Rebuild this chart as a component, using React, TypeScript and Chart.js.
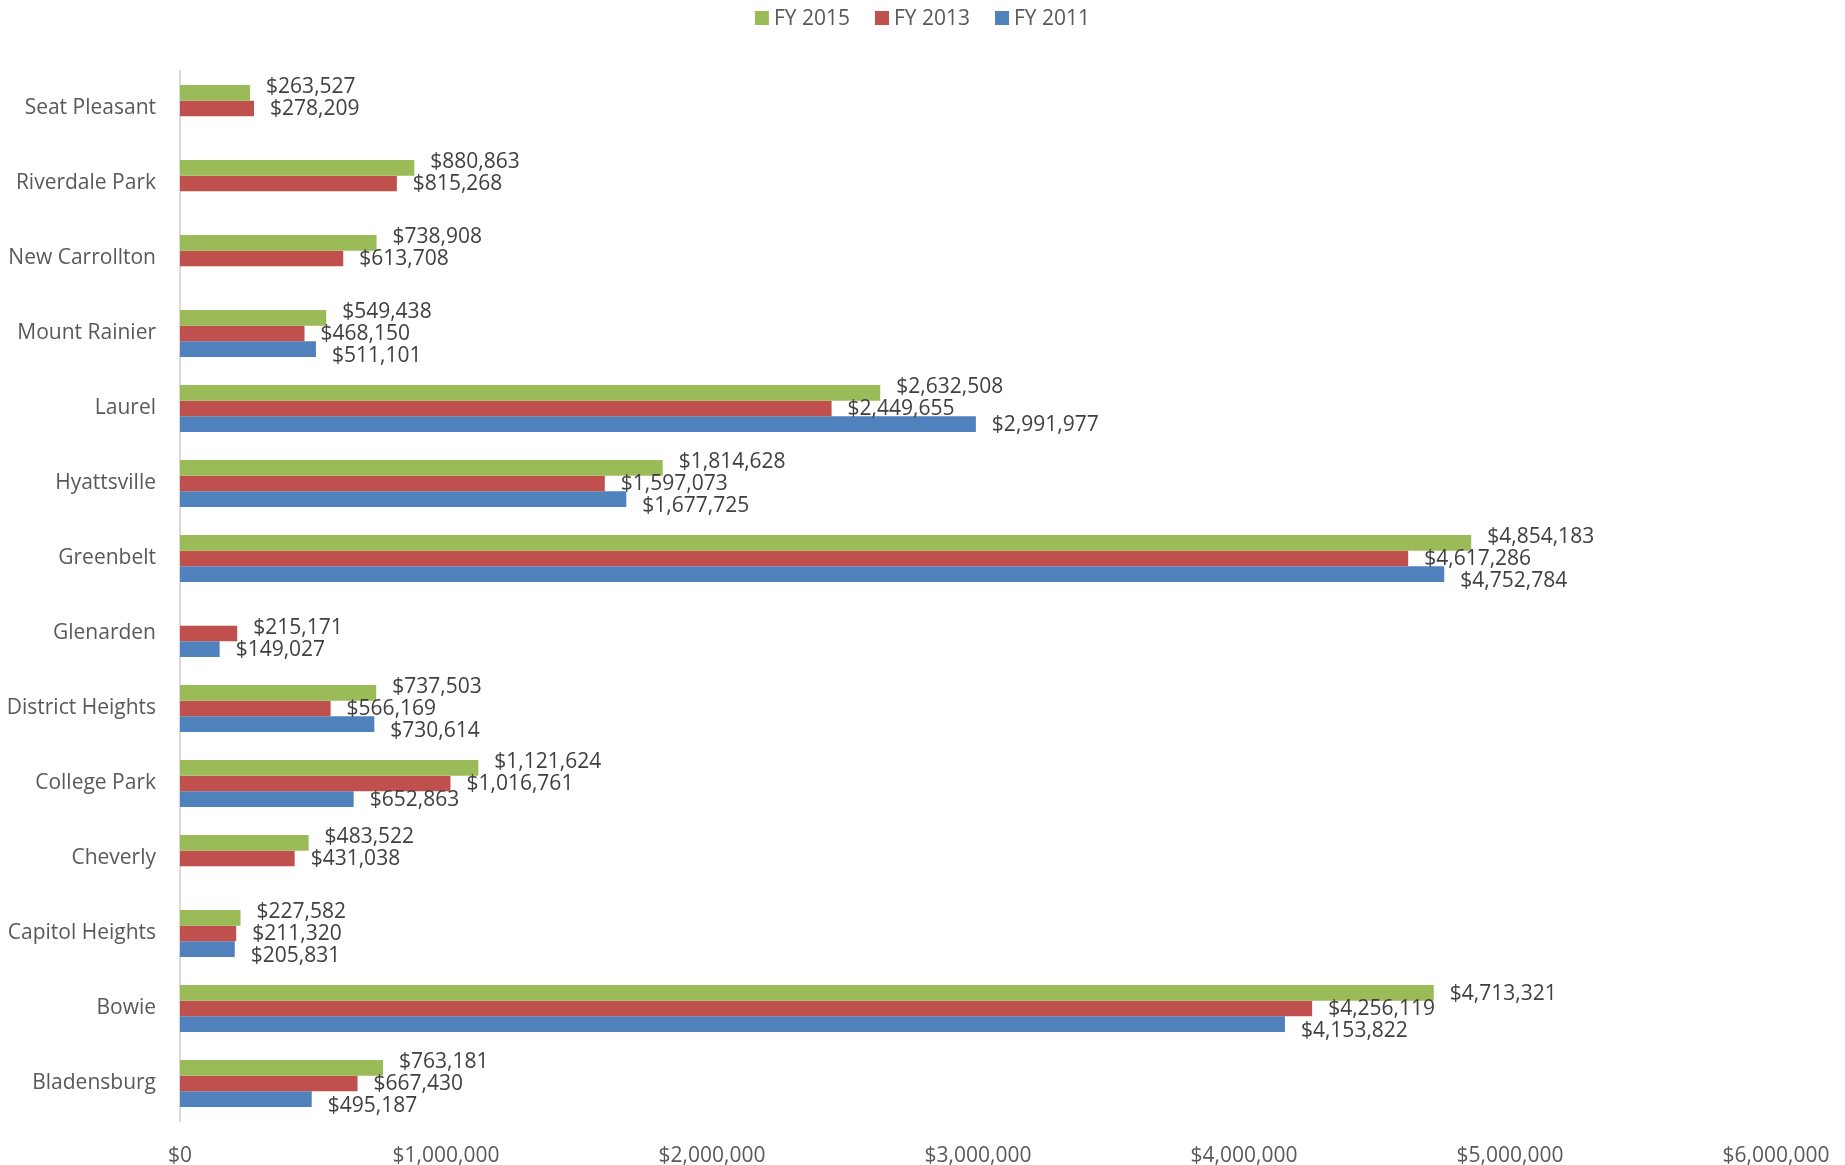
import { useEffect, useRef } from "react";
import { Chart, registerables } from "chart.js";

Chart.register(...registerables);

const categories = [
  "Seat Pleasant",
  "Riverdale Park",
  "New Carrollton",
  "Mount Rainier",
  "Laurel",
  "Hyattsville",
  "Greenbelt",
  "Glenarden",
  "District Heights",
  "College Park",
  "Cheverly",
  "Capitol Heights",
  "Bowie",
  "Bladensburg",
];

const fy2015 = [263527, 880863, 738908, 549438, 2632508, 1814628, 4854183, null, 737503, 1121624, 483522, 227582, 4713321, 763181];
const fy2013 = [278209, 815268, 613708, 468150, 2449655, 1597073, 4617286, 215171, 566169, 1016761, 431038, 211320, 4256119, 667430];
const fy2011 = [null, null, null, 511101, 2991977, 1677725, 4752784, 149027, 730614, 652863, null, 205831, 4153822, 495187];

const seriesNames = ["FY 2015", "FY 2013", "FY 2011"];
const seriesColors = ["#9BBB59", "#C0504D", "#4F81BD"];

const xMin = 0;
const xMax = 6000000;
const xStep = 1000000;

const FONT = "'Open Sans', 'Noto Sans', sans-serif";

const fmt = (v: number) => "$" + Math.round(v).toLocaleString("en-US");

const labelPlugin = {
  id: "barValueLabels",
  afterDatasetsDraw(chart: any) {
    const ctx = chart.ctx;
    ctx.save();
    ctx.font = `21px ${FONT}`;
    ctx.fillStyle = "#404040";
    ctx.textAlign = "left";
    ctx.textBaseline = "middle";
    const n = chart.data.labels.length;
    const sep = 22;
    for (let i = 0; i < n; i++) {
      const items: any[] = [];
      chart.data.datasets.forEach((ds: any, d: number) => {
        const v = ds.data[i];
        if (v == null) return;
        const el = chart.getDatasetMeta(d).data[i];
        if (!el) return;
        const text = fmt(v);
        const w = ctx.measureText(text).width;
        items.push({ x: el.x + 16, y: el.y + 1, w, text });
      });
      const a = Math.floor(items.length / 2);
      const overlapX = (p: any, q: any) => p.x < q.x + q.w && q.x < p.x + p.w;
      for (let k = a - 1; k >= 0; k--) {
        const ref = items[k + 1];
        const it = items[k];
        if (overlapX(it, ref)) it.y = Math.min(it.y, ref.y - sep);
      }
      for (let k = a + 1; k < items.length; k++) {
        const ref = items[k - 1];
        const it = items[k];
        if (overlapX(it, ref)) it.y = Math.max(it.y, ref.y + sep);
      }
      items.forEach((it) => ctx.fillText(it.text, it.x, it.y));
    }
    ctx.restore();
  },
};

const legendPlugin = {
  id: "topLegend",
  afterDraw(chart: any) {
    const ctx = chart.ctx;
    ctx.save();
    ctx.font = `21px ${FONT}`;
    ctx.textBaseline = "middle";
    ctx.textAlign = "left";
    const box = 14;
    const gap = 5;
    const spacing = 25;
    const cy = 18;
    const items = chart.data.datasets.map((ds: any) => ({
      text: ds.label,
      color: ds.backgroundColor,
      w: box + gap + ctx.measureText(ds.label).width,
    }));
    const total = items.reduce((s: number, it: any) => s + it.w, 0) + spacing * (items.length - 1);
    let x = chart.width / 2 - total / 2;
    items.forEach((it: any) => {
      ctx.fillStyle = it.color;
      ctx.fillRect(x, cy - box / 2, box, box);
      ctx.fillStyle = "#595959";
      ctx.fillText(it.text, x + box + gap, cy + 1);
      x += it.w + spacing;
    });
    ctx.restore();
  },
};

export default function App() {
  const canvasRef = useRef<HTMLCanvasElement | null>(null);

  useEffect(() => {
    document.body.style.margin = "0";
    const canvas = canvasRef.current;
    if (!canvas) return;
    const datasets = [fy2015, fy2013, fy2011].map((data, i) => ({
      label: seriesNames[i],
      data,
      backgroundColor: seriesColors[i],
      borderWidth: 0,
      categoryPercentage: 0.625,
      barPercentage: 1.0,
    }));
    const chart = new Chart(canvas, {
      type: "bar",
      data: { labels: categories, datasets },
      plugins: [labelPlugin, legendPlugin],
      options: {
        indexAxis: "y",
        responsive: false,
        animation: false,
        layout: { padding: { left: 0, right: 69, top: 71, bottom: 0 } },
        plugins: {
          legend: { display: false },
          title: { display: false },
          tooltip: { enabled: false },
        },
        scales: {
          x: {
            min: xMin,
            max: xMax,
            ticks: {
              stepSize: xStep,
              callback: (v: any) => fmt(Number(v)),
              color: "#595959",
              font: { family: FONT, size: 21 },
              padding: 14,
              maxRotation: 0,
              autoSkip: false,
            },
            grid: { display: false },
            border: { display: false },
            afterFit: (s: any) => {
              s.height = 44;
            },
          },
          y: {
            ticks: {
              color: "#595959",
              font: { family: FONT, size: 21 },
              padding: 16,
              autoSkip: false,
            },
            grid: { display: false },
            border: { display: true, color: "#D9D9D9", width: 2 },
            afterFit: (s: any) => {
              s.width = 180;
            },
          },
        },
      } as any,
    });
    return () => chart.destroy();
  }, []);

  return (
    <div style={{ width: 1845, height: 1165 }}>
      <canvas ref={canvasRef} width={1845} height={1165} style={{ display: "block" }} />
    </div>
  );
}
